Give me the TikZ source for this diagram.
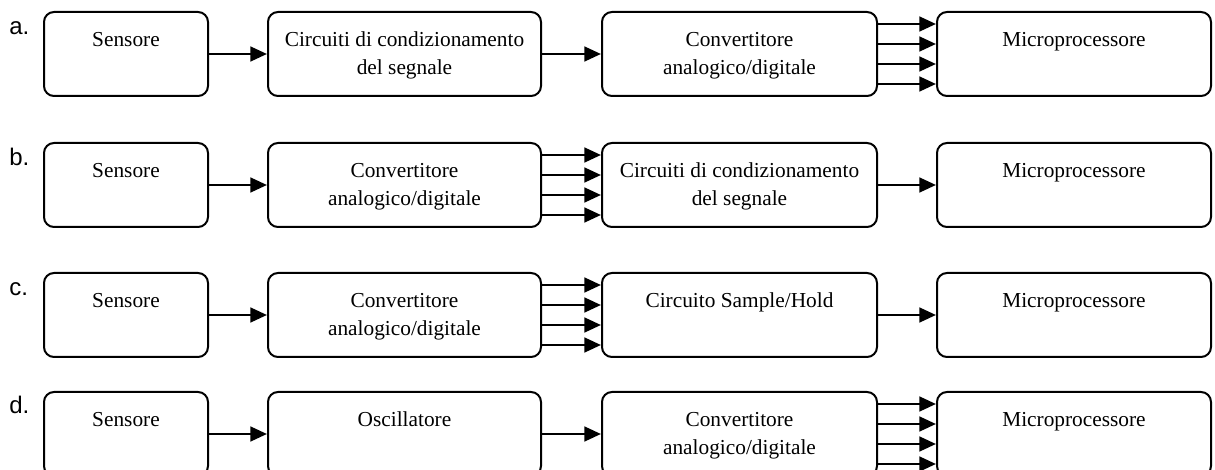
\documentclass[tikz,border=0pt]{standalone}
\usepackage{fontspec}
\setmainfont{Liberation Serif}
\newfontfamily\labelfont{Liberation Sans}
\usetikzlibrary{arrows.meta}

% four parallel lines for a digital bus
\newcommand{\busarrow}[2]{%
  \foreach \dy in {22.5,7.5,-7.5,-22.5}
    \draw[arr] ([yshift=\dy pt]#1.east) -- ([yshift=\dy pt]#2.west);}

\begin{document}
\begin{tikzpicture}[x=0.75pt,y=-0.75pt,
  box/.style={draw, line width=1.5pt, rounded corners=7.5pt,
              minimum height=63pt, inner sep=0pt},
  w1/.style={minimum width=123pt},
  w2/.style={minimum width=204.75pt},
  w3/.style={minimum width=206.25pt},
  w4/.style={minimum width=205.5pt},
  txt/.style={anchor=north, inner sep=0pt, align=center,
              font=\fontsize{16}{21}\selectfont},
  lab/.style={anchor=base west, inner sep=0pt,
              font=\labelfont\fontsize{18}{21}\selectfont},
  arr/.style={line width=2pt, -{Triangle[length=12.5pt,width=11pt]}}]

\useasboundingbox (0,0) rectangle (1215,470);

% ---------- row a ----------
\node[lab] (la) at (9,35) {a.};
\node[box,w1] (a1) at (126,54) {};
\node[box,w2] (a2) at (404.5,54) {};
\node[box,w3] (a3) at (739.5,54) {};
\node[box,w4] (a4) at (1074,54) {};
\node[txt] (a1t) at ([yshift=-11.5pt]a1.north) {\strut Sensore};
\node[txt] (a2t) at ([yshift=-11.5pt]a2.north) {\strut Circuiti di condizionamento\\del segnale};
\node[txt] (a3t) at ([yshift=-11.5pt]a3.north) {\strut Convertitore\\analogico/digitale};
\node[txt] (a4t) at ([yshift=-11.5pt]a4.north) {\strut Microprocessore};
\draw[arr] (a1) -- (a2);
\draw[arr] (a2) -- (a3);
\busarrow{a3}{a4}

% ---------- row b ----------
\node[lab] (lb) at (9,166) {b.};
\node[box,w1] (b1) at (126,185) {};
\node[box,w2] (b2) at (404.5,185) {};
\node[box,w3] (b3) at (739.5,185) {};
\node[box,w4] (b4) at (1074,185) {};
\node[txt] (b1t) at ([yshift=-11.5pt]b1.north) {\strut Sensore};
\node[txt] (b2t) at ([yshift=-11.5pt]b2.north) {\strut Convertitore\\analogico/digitale};
\node[txt] (b3t) at ([yshift=-11.5pt]b3.north) {\strut Circuiti di condizionamento\\del segnale};
\node[txt] (b4t) at ([yshift=-11.5pt]b4.north) {\strut Microprocessore};
\draw[arr] (b1) -- (b2);
\busarrow{b2}{b3}
\draw[arr] (b3) -- (b4);

% ---------- row c ----------
\node[lab] (lc) at (9,296) {c.};
\node[box,w1] (c1) at (126,315) {};
\node[box,w2] (c2) at (404.5,315) {};
\node[box,w3] (c3) at (739.5,315) {};
\node[box,w4] (c4) at (1074,315) {};
\node[txt] (c1t) at ([yshift=-11.5pt]c1.north) {\strut Sensore};
\node[txt] (c2t) at ([yshift=-11.5pt]c2.north) {\strut Convertitore\\analogico/digitale};
\node[txt] (c3t) at ([yshift=-11.5pt]c3.north) {\strut Circuito Sample/Hold};
\node[txt] (c4t) at ([yshift=-11.5pt]c4.north) {\strut Microprocessore};
\draw[arr] (c1) -- (c2);
\busarrow{c2}{c3}
\draw[arr] (c3) -- (c4);

% ---------- row d ----------
\node[lab] (ld) at (9,414) {d.};
\node[box,w1] (d1) at (126,434) {};
\node[box,w2] (d2) at (404.5,434) {};
\node[box,w3] (d3) at (739.5,434) {};
\node[box,w4] (d4) at (1074,434) {};
\node[txt] (d1t) at ([yshift=-11.5pt]d1.north) {\strut Sensore};
\node[txt] (d2t) at ([yshift=-11.5pt]d2.north) {\strut Oscillatore};
\node[txt] (d3t) at ([yshift=-11.5pt]d3.north) {\strut Convertitore\\analogico/digitale};
\node[txt] (d4t) at ([yshift=-11.5pt]d4.north) {\strut Microprocessore};
\draw[arr] (d1) -- (d2);
\draw[arr] (d2) -- (d3);
\busarrow{d3}{d4}

\end{tikzpicture}
\end{document}
